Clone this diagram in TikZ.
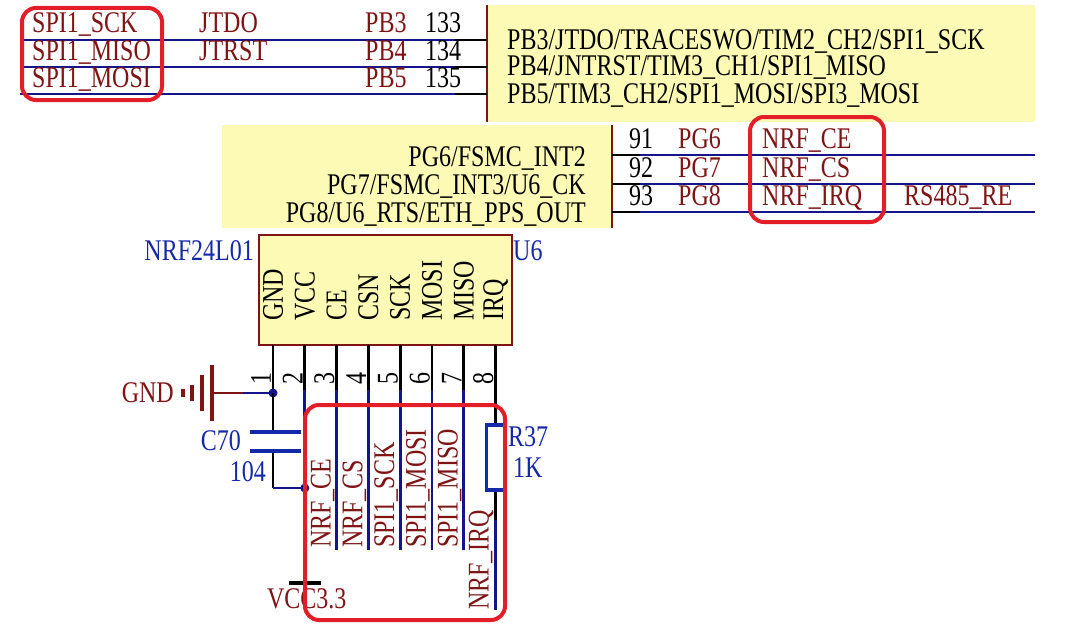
\documentclass[tikz,border=0pt]{standalone}
\usepackage{fontspec}
\setmainfont{Liberation Serif}[FakeStretch=0.8]
\usetikzlibrary{calc}
\definecolor{netred}{RGB}{128,20,20}
\definecolor{wireblue}{RGB}{20,20,140}
\definecolor{partblue}{RGB}{20,40,170}
\definecolor{chipfill}{RGB}{252,250,180}
\definecolor{boxred}{RGB}{228,30,40}
\tikzset{
  lbl/.style={font=\fontsize{30}{30}\selectfont, inner sep=0pt},
  net/.style={lbl, text=netred},
  part/.style={lbl, text=partblue},
  wire/.style={wireblue, line width=2.8pt},
  pin/.style={black, line width=2.8pt},
  hilite/.style={boxred, line width=4pt, rounded corners=14pt},
}
\begin{document}
\begin{tikzpicture}[x=1pt,y=-1pt]
    \useasboundingbox[fill=white] (0,0) rectangle (1068,634);
    % MCU parts
    \draw[fill=chipfill, draw=none] (487,5) rectangle (1035,122);
    \draw[netred, line width=1.2pt] (487,5) -- (487,122);
    \draw[fill=chipfill, draw=none] (222,125) rectangle (612,228);
    \draw[netred, line width=1.2pt] (612,125) -- (612,228);
    \foreach \y/\n/\f/\j/\p/\k in {40/0/SPI1\_SCK/JTDO/PB3/133, 67/1/SPI1\_MISO/JTRST/PB4/134, 94/2/SPI1\_MOSI//PB5/135} {
      \coordinate (pbl\n) at (20,\y);
      \coordinate (pbs\n) at (455,\y);
      \coordinate (pbr\n) at (487,\y);
      \draw[wire] (pbl\n) -- (pbs\n);
      \draw[pin] (pbs\n) -- (pbr\n);
      \node[net, anchor=base west] (pbnet\n) at (32,\y-7) {\f};
      \node[net, anchor=base west] (pbjt\n) at (199,\y-7) {\j};
      \node[net, anchor=base west] (pbname\n) at (365,\y-7) {\p};
      \node[lbl, anchor=base west] (pbnum\n) at (425,\y-7) {\k};
    }
    \node[lbl, anchor=base west] (pbf0) at (507,49) {PB3/JTDO/TRACESWO/TIM2\_CH2/SPI1\_SCK};
    \node[lbl, anchor=base west] (pbf1) at (507,76) {PB4/JNTRST/TIM3\_CH1/SPI1\_MISO};
    \node[lbl, anchor=base west] (pbf2) at (507,103) {PB5/TIM3\_CH2/SPI1\_MOSI/SPI3\_MOSI};
    \foreach \y/\n/\k/\p/\f/\o in {155/0/91/PG6/NRF\_CE/, 184/1/92/PG7/NRF\_CS/, 212/2/93/PG8/NRF\_IRQ/RS485\_RE} {
      \coordinate (pgl\n) at (612,\y);
      \coordinate (pgs\n) at (640,\y);
      \coordinate (pgr\n) at (1035,\y);
      \draw[pin] (pgl\n) -- (pgs\n);
      \draw[wire] (pgs\n) -- (pgr\n);
      \node[lbl, anchor=base west] (pgnum\n) at (629,\y-7) {\k};
      \node[net, anchor=base west] (pgname\n) at (678,\y-7) {\p};
      \node[net, anchor=base west] (pgnet\n) at (762,\y-7) {\f};
      \node[net, anchor=base west] (pgalt\n) at (904,\y-7) {\o};
    }
    \node[lbl, anchor=base east] (pgf0) at (586,166) {PG6/FSMC\_INT2};
    \node[lbl, anchor=base east] (pgf1) at (586,194) {PG7/FSMC\_INT3/U6\_CK};
    \node[lbl, anchor=base east] (pgf2) at (586,222) {PG8/U6\_RTS/ETH\_PPS\_OUT};
    % NRF24L01 module
    \draw[fill=chipfill, draw=netred, line width=1.2pt] (259,235) rectangle (512,345);
    \node[part, anchor=east] (modname) at (254,251) {NRF24L01};
    \node[part, anchor=west] (modref) at (513,251) {U6};
    \foreach \i/\s in {1/GND,2/VCC,3/CE,4/CSN,5/SCK,6/MOSI,7/MISO,8/IRQ} {
      \coordinate (p\i) at ({273+(\i-1)*31.8},345);
      \coordinate (q\i) at ({273+(\i-1)*31.8},390);
      \node[lbl, rotate=90, anchor=west] (pn\i) at ($(p\i)+(0,-24)$) {\s};
      \node[lbl, rotate=90, anchor=south] (pnum\i) at ($(q\i)+(-2,-12)$) {\i};
      \draw[pin] (p\i) -- (q\i);
    }
    % GND and C70
    \coordinate (gj) at ($(p1)+(0,48)$);
    \coordinate (gs) at (243,393);
    \coordinate (gb) at (212,393);
    \draw[pin] (q1) -- (gj);
    \draw[wire] (gj) -- (gs);
    \draw[netred, line width=2.8pt] (gs) -- (gb);
    \draw[netred, line width=3.5pt] (212,365) -- (212,421) (202,375) -- (202,411) (192,385) -- (192,401) (183,389) -- (183,397);
    \node[net, anchor=east] (gndlbl) at (174,393) {GND};
    \fill[wireblue] (gj) circle (4.5pt);
    \coordinate (ct) at ($(p1)+(0,87)$);
    \coordinate (cb) at ($(p1)+(0,106)$);
    \coordinate (cj) at ($(p1)+(0,143)$);
    \draw[pin] (gj) -- (ct) (cb) -- (cj);
    \draw[partblue, line width=4pt] ($(ct)+(-23,0)$) -- ($(ct)+(28,0)$) ($(cb)+(-23,0)$) -- ($(cb)+(28,0)$);
    \node[part, anchor=east] (cref) at (241,441) {C70};
    \node[part, anchor=east] (cval) at (266,472) {104};
    % VCC3.3
    \coordinate (vj) at ($(p2)+(0,143)$);
    \coordinate (vb) at ($(p2)+(0,238)$);
    \draw[wire] (cj) -- (vj);
    \draw[wire] (q2) -- (vb);
    \fill[wireblue] (vj) circle (4.5pt);
    \draw[black, line width=3.5pt] ($(vb)+(-16,0)$) -- ($(vb)+(16,0)$);
    \node[net, anchor=north] (vcclbl) at ($(vb)+(2,5)$) {VCC3.3};
    % signal wires
    \foreach \i/\s in {3/NRF\_CE,4/NRF\_CS,5/SPI1\_SCK,6/SPI1\_MOSI,7/SPI1\_MISO} {
      \coordinate (e\i) at ($(q\i)+(0,160)$);
      \draw[wire] (q\i) -- (e\i);
      \node[net, rotate=90, anchor=south west] (sn\i) at ($(e\i)+(-2,-2)$) {\s};
    }
    % R37
    \coordinate (rt) at ($(p8)+(0,80)$);
    \coordinate (rb) at ($(p8)+(0,145)$);
    \coordinate (rw) at ($(p8)+(0,175)$);
    \coordinate (re) at ($(p8)+(0,265)$);
    \draw[pin] (q8) -- (rt) (rb) -- (rw);
    \draw[partblue, line width=3.5pt] ($(rt)+(-9,0)$) rectangle ($(rb)+(9,0)$);
    \draw[wire] (rw) -- (re);
    \node[part, anchor=west] (rref) at (508,437) {R37};
    \node[part, anchor=west] (rval) at (513,468) {1K};
    \node[net, rotate=90, anchor=south west] (irqlbl) at ($(re)+(-2,0)$) {NRF\_IRQ};
    % highlight marks
    \draw[hilite] (22,8) rectangle (162,100);
    \draw[hilite] (750,117) rectangle (884,222);
    \draw[hilite] (305,405) rectangle (505,620);
\end{tikzpicture}
\end{document}
